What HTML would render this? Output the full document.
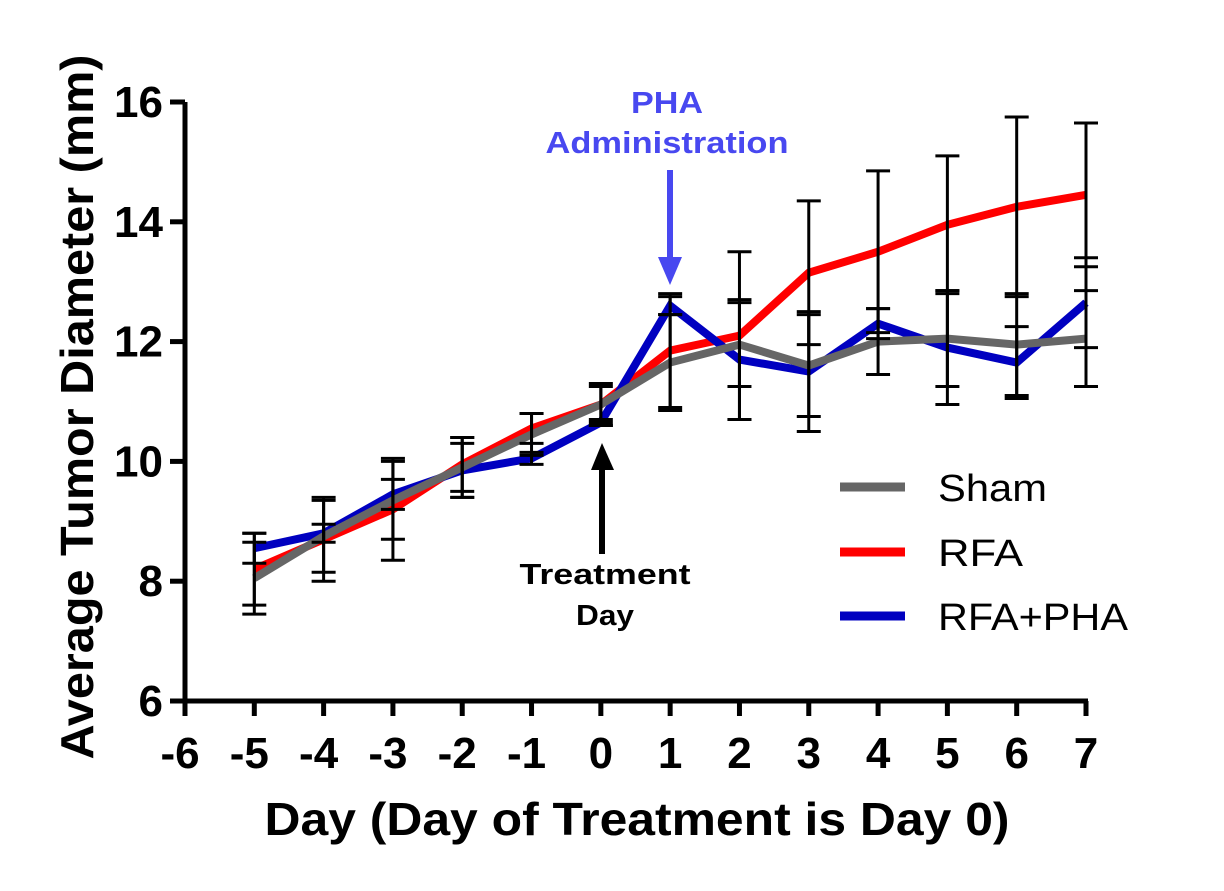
<!DOCTYPE html>
<html><head><meta charset="utf-8"><style>
body{margin:0;background:#fff}
svg{display:block;font-family:"Liberation Sans",Arial,sans-serif}
</style></head><body>
<svg id="chart" width="1224" height="891" viewBox="0 0 1224 891">
<g id="axes"></g><g id="series"></g><g id="bars"></g>
<g>
<text x="667" y="113" text-anchor="middle" font-weight="bold" font-size="31" fill="#4848f0" textLength="72" lengthAdjust="spacingAndGlyphs">PHA</text>
<text x="667" y="153" text-anchor="middle" font-weight="bold" font-size="31" fill="#4848f0" textLength="243" lengthAdjust="spacingAndGlyphs">Administration</text>
<rect x="667" y="170" width="6" height="92" fill="#4848f0"/>
<polygon points="658,257 682,257 670,285" fill="#4848f0"/>
</g>
<g>
<polygon points="591,470 614,470 602,443" fill="#000"/>
<rect x="599" y="466" width="6" height="88" fill="#000"/>
<text x="605" y="584" text-anchor="middle" font-weight="bold" font-size="29" textLength="171" lengthAdjust="spacingAndGlyphs">Treatment</text>
<text x="605" y="625" text-anchor="middle" font-weight="bold" font-size="29" textLength="58" lengthAdjust="spacingAndGlyphs">Day</text>
</g>
<g>
<line x1="840" y1="487" x2="905" y2="487" stroke="#666" stroke-width="9"/>
<text x="938" y="501" font-size="38" textLength="109" lengthAdjust="spacingAndGlyphs">Sham</text>
<line x1="840" y1="552" x2="905" y2="552" stroke="#f00" stroke-width="9"/>
<text x="938" y="566" font-size="38" textLength="85" lengthAdjust="spacingAndGlyphs">RFA</text>
<line x1="840" y1="616" x2="905" y2="616" stroke="#0000c0" stroke-width="9"/>
<text x="938" y="630" font-size="38" textLength="190" lengthAdjust="spacingAndGlyphs">RFA+PHA</text>
</g>
<text x="637" y="835" text-anchor="middle" font-weight="bold" font-size="46" textLength="745" lengthAdjust="spacingAndGlyphs">Day (Day of Treatment is Day 0)</text>
<text transform="translate(93,407) rotate(-90)" text-anchor="middle" font-weight="bold" font-size="46" textLength="705" lengthAdjust="spacingAndGlyphs">Average Tumor Diameter (mm)</text>
</svg>
<script>
const days=[-5,-4,-3,-2,-1,0,1,2,3,4,5,6,7];
const shamVals=[8.05,8.75,9.35,9.9,10.45,10.95,11.65,11.95,11.6,12.0,12.05,11.95,12.05];
const rfaVals=[8.2,8.7,9.2,9.95,10.55,10.95,11.85,12.1,13.15,13.5,13.95,14.25,14.45];
const phaVals=[8.55,8.8,9.45,9.85,10.05,10.65,12.6,11.7,11.5,12.3,11.9,11.65,12.65];
const shamErr=[0.6,0.6,0.65,0.5,0.35,0.35,0.8,0.7,0.85,0.55,0.8,0.85,0.8];
const rfaErr=[0.6,0.7,0.85,0.45,0.25,0.3,0.95,1.4,1.2,1.35,1.15,1.5,1.2];
const phaErr=[0.25,0.15,0.25,0.45,0.1,0.05,0.15,1.0,1.0,0.25,0.95,0.6,0.75];
const xTicks=[-6,-5,-4,-3,-2,-1,0,1,2,3,4,5,6,7];
const yTicks=[6,8,10,12,14,16];
const NS='http://www.w3.org/2000/svg';
const X=v=>185+(v+6)*(1086-185)/13;
const Y=v=>701-(v-6)*(701-102)/10;
function mk(tag,attrs,parent){const e=document.createElementNS(NS,tag);for(const k in attrs)e.setAttribute(k,attrs[k]);parent.appendChild(e);return e;}
const axes=document.getElementById('axes');
let e=mk('line',{x1:185,y1:102,x2:185,y2:703,stroke:'#000','stroke-width':5},axes);


e=mk('line',{x1:183,y1:701,x2:1088,y2:701,stroke:'#000','stroke-width':5},axes);


yTicks.forEach(t=>{
 let l=mk('line',{x1:170,y1:Y(t),x2:185,y2:Y(t),stroke:'#000','stroke-width':5},axes);
 
 
 let s=mk('text',{x:163,y:Y(t)+15,'text-anchor':'end','font-weight':'bold','font-size':44},axes);
 s.textContent=t;
 
 
});
xTicks.forEach(t=>{
 let l=mk('line',{x1:X(t),y1:701,x2:X(t),y2:716,stroke:'#000','stroke-width':5},axes);
 
 
 let s=mk('text',{x:X(t)-(t<0?5:0),y:768,'text-anchor':'middle','font-weight':'bold','font-size':44},axes);
 s.textContent=t;
 
 
});
const series=[['rfa',rfaVals,rfaErr,'#f00'],['rfa-pha',phaVals,phaErr,'#0000c0'],['sham',shamVals,shamErr,'#666']];
const sg=document.getElementById('series'),bg=document.getElementById('bars');
series.forEach(([n,vals,err,c])=>{
 let p=mk('polyline',{points:days.map((d,i)=>X(d)+','+Y(vals[i])).join(' '),fill:'none',stroke:c,'stroke-width':8,'stroke-linejoin':'miter'},sg);
 
 
 days.forEach((d,i)=>{
  const x=X(d),hi=Y(vals[i]+err[i]),lo=Y(vals[i]-err[i]);
  const g=mk('g',{stroke:'#000','stroke-width':3},bg);
  
  
  mk('line',{x1:x,y1:hi,x2:x,y2:lo},g);
  mk('line',{x1:x-12,y1:hi,x2:x+12,y2:hi},g);
  mk('line',{x1:x-12,y1:lo,x2:x+12,y2:lo},g);
 });
});
</script>
</body></html>
